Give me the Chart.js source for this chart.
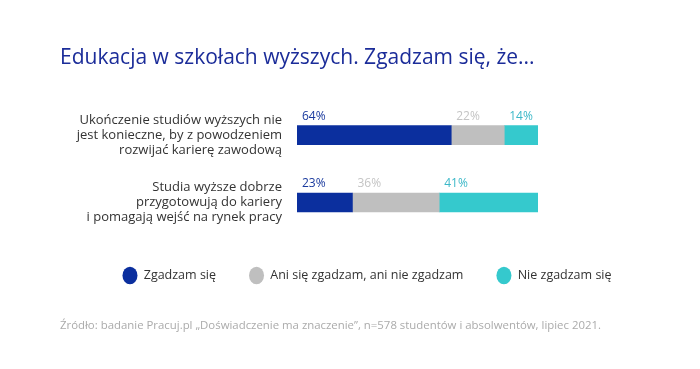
<!DOCTYPE html>
<html>
<head>
<meta charset="utf-8">
<script src="https://cdn.jsdelivr.net/npm/chart.js@4"></script>
<style>
  html, body { margin: 0; padding: 0; background: #ffffff; }
  #wrap { width: 700px; height: 369px; }
</style>
</head>
<body>
<div id="wrap"><canvas id="chart" width="700" height="369"></canvas></div>
<script>
const categories = [
    ['Ukończenie studiów wyższych nie', 'jest konieczne, by z powodzeniem', 'rozwijać karierę zawodową'],
    ['Studia wyższe dobrze', 'przygotowują do kariery', 'i pomagają wejść na rynek pracy']
];
const seriesNames = ['Zgadzam się', 'Ani się zgadzam, ani nie zgadzam', 'Nie zgadzam się'];
const agree = [64, 23];
const neutral = [22, 36];
const disagree = [14, 41];
const seriesColors = ['#0b2f9e', '#bfbfbf', '#35c9cd'];
const labelColors = ['#1a3a9e', '#c4c4c4', '#3bb8c8'];

const FONT = '"Open Sans", "Noto Sans", sans-serif';

const valueLabels = {
    id: 'valueLabels',
    afterDatasetsDraw(chart) {
        const ctx = chart.ctx;
        ctx.save();
        ctx.font = '12px ' + FONT;
        ctx.textAlign = 'left';
        ctx.textBaseline = 'bottom';
        chart.data.datasets.forEach(function(ds, i) {
            const meta = chart.getDatasetMeta(i);
            meta.data.forEach(function(bar, j) {
                const left = Math.min(bar.base, bar.x);
                ctx.fillStyle = labelColors[i];
                ctx.fillText(ds.data[j] + '%', left + 5, bar.y - bar.height / 2 - 3);
            });
        });
        ctx.restore();
    }
};

new Chart(document.getElementById('chart').getContext('2d'), {
    type: 'bar',
    data: {
        labels: categories,
        datasets: [
            { label: seriesNames[0], data: agree, backgroundColor: seriesColors[0] },
            { label: seriesNames[1], data: neutral, backgroundColor: seriesColors[1] },
            { label: seriesNames[2], data: disagree, backgroundColor: seriesColors[2] }
        ]
    },
    options: {
        indexAxis: 'y',
        responsive: false,
        animation: false,
        layout: { padding: { left: 60, right: 26, top: 0, bottom: 10 } },
        datasets: { bar: { barThickness: 19, borderWidth: 0 } },
        scales: {
            x: { stacked: true, min: 0, max: 100, display: false },
            y: {
                stacked: true,
                grid: { display: false },
                border: { display: false },
                ticks: {
                    color: '#333333',
                    font: { family: FONT, size: 13, lineHeight: 1.17 },
                    padding: 7
                },
                afterFit: function(scale) { scale.width = 237; }
            },
            yr: {
                type: 'category',
                position: 'right',
                grid: { display: false },
                border: { display: false },
                ticks: { display: false },
                afterFit: function(scale) { scale.width = 136; }
            }
        },
        plugins: {
            title: {
                display: true,
                text: 'Edukacja w szkołach wyższych. Zgadzam się, że...',
                align: 'start',
                color: '#1b2c99',
                font: { family: FONT, size: 21, weight: 'normal' },
                padding: { top: 45.4, bottom: 30.9 }
            },
            subtitle: {
                display: true,
                position: 'bottom',
                text: 'Źródło: badanie Pracuj.pl „Doświadczenie ma znaczenie”, n=578 studentów i absolwentów, lipiec 2021.',
                align: 'start',
                color: '#ababab',
                font: { family: FONT, size: 11.4 },
                padding: { top: 27.6, bottom: 26 }
            },
            legend: {
                position: 'bottom',
                labels: {
                    usePointStyle: true,
                    pointStyle: 'circle',
                    pointStyleWidth: 15,
                    boxHeight: 15,
                    padding: 33,
                    color: '#333333',
                    font: { family: FONT, size: 12.5 }
                }
            },
            tooltip: { enabled: false }
        }
    },
    plugins: [valueLabels]
});
</script>
</body>
</html>
